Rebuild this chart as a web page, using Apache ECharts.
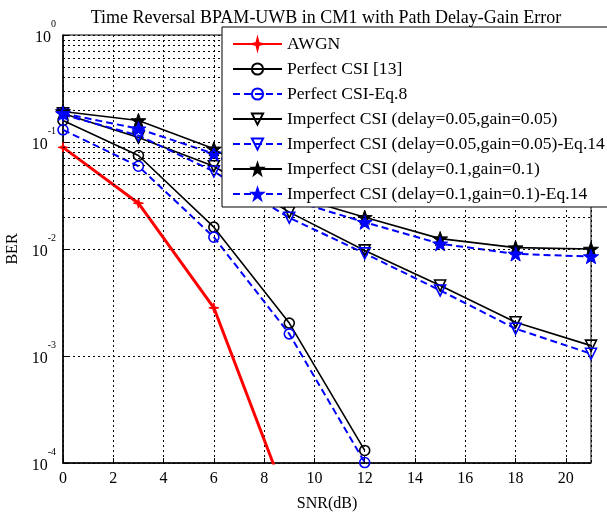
<!DOCTYPE html>
<html><head><meta charset="utf-8">
<script src="https://cdn.jsdelivr.net/npm/echarts@6/dist/echarts.min.js"></script>
<style>html,body{margin:0;padding:0;background:#fff}#c{width:607px;height:512px}</style>
</head><body><div id="c"></div>
<script>
// ---- data ----
const snr = [0, 3, 6, 9, 12, 15, 18, 21];
const awgn = [0.089, 0.0268, 0.00282, 0.00004];
const perfectCSI = [0.159, 0.0748, 0.0160, 0.00203, 0.000131];
const perfectEq8 = [0.130, 0.0594, 0.0129, 0.00161, 0.000101];
const imp005 = [0.185, 0.110, 0.0594, 0.0221, 0.0097, 0.00456, 0.00207, 0.00125];
const imp005Eq14 = [0.180, 0.115, 0.0530, 0.0196, 0.0091, 0.0041, 0.0018, 0.00105];
const imp01 = [0.193, 0.159, 0.0863, 0.032, 0.0198, 0.0125, 0.0103, 0.0100];
const imp01Eq14 = [0.185, 0.133, 0.0776, 0.029, 0.0178, 0.0112, 0.0090, 0.0085];
const seriesNames = ['AWGN', 'Perfect CSI [13]', 'Perfect CSI-Eq.8',
  'Imperfect CSI (delay=0.05,gain=0.05)', 'Imperfect CSI (delay=0.05,gain=0.05)-Eq.14',
  'Imperfect CSI (delay=0.1,gain=0.1)', 'Imperfect CSI (delay=0.1,gain=0.1)-Eq.14'];
const titleText = 'Time Reversal BPAM-UWB in CM1 with Path Delay-Gain Error';
const xTickInterval = 2;

// minor log grid values (2..9 x 10^k)
const minorGrid = [];
for (let d = -4; d <= -1; d++) for (let k = 2; k <= 9; k++) minorGrid.push(k * Math.pow(10, d));

const FONT = '"Liberation Serif", "Times New Roman", serif';
const STAR = 'path://M0,-10 L2.35,-3.24 L9.51,-3.09 L3.8,1.24 L5.88,8.09 L0,4 L-5.88,8.09 L-3.8,1.24 L-9.51,-3.09 L-2.35,-3.24 Z';
const ASTER = 'path://M0,-10 L2,-2 L10,0 L2,2 L0,10 L-2,2 L-10,0 L-2,-2 Z';

function pairs(vals) { return vals.map((v, i) => [snr[i], v]); }

function mk(name, vals, color, dashed, width, symbol, size, filled, rot) {
  return {
    name, type: 'line', data: pairs(vals),
    symbol, symbolSize: size, symbolRotate: rot || 0, symbolKeepAspect: true,
    showSymbol: true,
    lineStyle: { color, width, type: dashed ? [7, 4] : 'solid' },
    itemStyle: filled ? { color, borderColor: color, borderWidth: 1 }
                      : { color: 'rgba(255,255,255,0)', borderColor: color, borderWidth: 1.6 },
    emphasis: { disabled: true },
    z: 3
  };
}

const series = [
  {
    name: '_grid', type: 'line', data: [], silent: true,
    markLine: {
      silent: true, symbol: ['none', 'none'], label: { show: false },
      lineStyle: { color: '#000', width: 1, type: [2, 3] },
      data: minorGrid.map(v => ({ yAxis: v })),
      animation: false
    },
    z: 1
  },
  mk(seriesNames[0], awgn, '#ff0000', false, 3, ASTER, 10, true),
  mk(seriesNames[1], perfectCSI, '#000000', false, 1.6, 'circle', 10, false),
  mk(seriesNames[2], perfectEq8, '#0000ff', true, 2, 'circle', 10, false),
  mk(seriesNames[3], imp005, '#000000', false, 1.6, 'triangle', 11, false, 180),
  mk(seriesNames[4], imp005Eq14, '#0000ff', true, 2, 'triangle', 11, false, 180),
  mk(seriesNames[5], imp01, '#000000', false, 1.6, STAR, 15, true),
  mk(seriesNames[6], imp01Eq14, '#0000ff', true, 2, STAR, 15, true)
];

const chart = echarts.init(document.getElementById('c'), null, { renderer: 'canvas' });
chart.setOption({
  animation: false,
  backgroundColor: '#fff',
  title: {
    text: titleText, left: 321, top: 4, textAlign: 'center',
    textStyle: { fontFamily: FONT, fontSize: 18, fontWeight: 'normal', color: '#000' }
  },
  grid: {
    left: 63, right: 16, top: 35, bottom: 49, show: true,
    borderColor: '#000', borderWidth: 1, containLabel: false, outerBoundsMode: 'none'
  },
  legend: {
    data: seriesNames, orient: 'vertical', left: 222, top: 27,
    itemWidth: 49, itemHeight: 14, itemGap: 7,
    padding: [8, 24, 4, 10],
    backgroundColor: '#fff', borderColor: '#000', borderWidth: 1, borderRadius: 0,
    textStyle: { fontFamily: FONT, fontSize: 17.6, color: '#000', lineHeight: 18 },
    selectedMode: false, z: 10
  },
  xAxis: {
    type: 'value', min: 0, max: 21, interval: xTickInterval,
    name: 'SNR(dB)', nameLocation: 'middle', nameGap: 33,
    nameTextStyle: { fontFamily: FONT, fontSize: 16, color: '#000' },
    axisLine: { show: true, lineStyle: { color: '#000', width: 1.5 } },
    axisTick: { show: true, inside: true, length: 5, lineStyle: { color: '#000' } },
    axisLabel: { fontFamily: FONT, fontSize: 16, color: '#000', margin: 8, showMaxLabel: false },
    splitLine: { show: true, lineStyle: { color: '#000', width: 1, type: [2, 3] } }
  },
  yAxis: {
    type: 'log', logBase: 10, min: 0.0001, max: 1,
    name: 'BER', nameLocation: 'middle', nameGap: 38, nameRotate: 90,
    nameTextStyle: { fontFamily: FONT, fontSize: 16, color: '#000' },
    axisLine: { show: true, lineStyle: { color: '#000', width: 1.5 } },
    axisTick: { show: true, inside: true, length: 5, lineStyle: { color: '#000' } },
    axisLabel: {
      margin: 7,
      padding: [0, 0, 5, 0],
      formatter: v => '{b|10}{e|' + Math.round(Math.log10(v)) + '}',
      rich: {
        b: { fontFamily: FONT, fontSize: 16, color: '#000', padding: [10, 0, 0, 0] },
        e: { fontFamily: FONT, fontSize: 10, color: '#000', verticalAlign: 'top' }
      }
    },
    splitLine: { show: true, lineStyle: { color: '#000', width: 1, type: [2, 3] } }
  },
  series
});
</script>
</body></html>
